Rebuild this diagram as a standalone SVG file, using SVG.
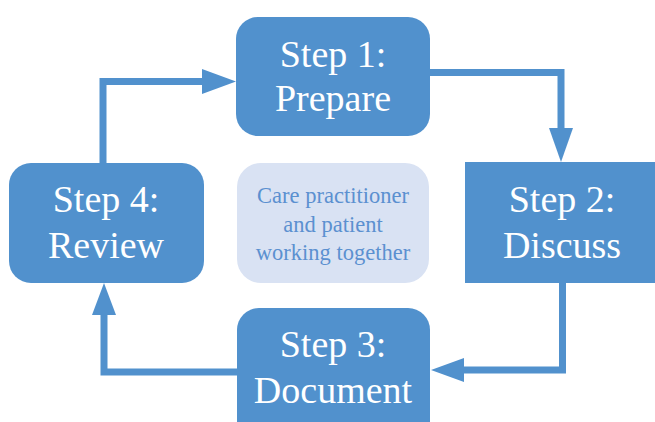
<svg xmlns="http://www.w3.org/2000/svg" width="655" height="422" viewBox="0 0 655 422">
<defs>
<style>
.box{fill:#5191cd;}
.lt{fill:#d9e2f3;}
.t{font-family:"Liberation Serif",serif;font-size:38px;fill:#ffffff;text-anchor:middle;}
.c{font-family:"Liberation Serif",serif;font-size:22.5px;fill:#5b90d0;text-anchor:middle;}
.ln{fill:none;stroke:#5191cd;stroke-width:7;}
.hd{fill:#5191cd;}
</style>
</defs>
<rect width="655" height="422" fill="#ffffff"/>
<g id="connectors">
<polyline class="ln" points="103,164 103,81.5 205,81.5"/>
<polygon class="hd" points="202,69 236,81.5 202,94"/>
<polyline class="ln" points="430,72.5 561,72.5 561,130"/>
<polygon class="hd" points="549,128 573,128 561,162"/>
<polyline class="ln" points="562.5,283 562.5,370 462,370"/>
<polygon class="hd" points="464,358 464,382 431,370"/>
<polyline class="ln" points="237,372 104,372 104,313"/>
<polygon class="hd" points="92,315 116,315 104,283"/>
</g>
<g id="step1">
<rect class="box" x="236" y="17" width="194" height="119" rx="22"/>
<text class="t" x="333" y="67">Step 1:</text>
<text class="t" x="333" y="111">Prepare</text>
</g>
<g id="step2">
<rect class="box" x="465" y="162" width="195" height="121"/>
<text class="t" x="562" y="212">Step 2:</text>
<text class="t" x="562" y="258">Discuss</text>
</g>
<g id="step3">
<rect class="box" x="237" y="308" width="193" height="140" rx="22"/>
<text class="t" x="333" y="357">Step 3:</text>
<text class="t" x="333" y="403">Document</text>
</g>
<g id="step4">
<rect class="box" x="9" y="163" width="195" height="120" rx="22"/>
<text class="t" x="106" y="212">Step 4:</text>
<text class="t" x="106" y="258">Review</text>
</g>
<g id="center">
<rect class="lt" x="237" y="163" width="192" height="120" rx="24"/>
<text class="c" x="333" y="203">Care practitioner</text>
<text class="c" x="333" y="232">and patient</text>
<text class="c" x="333" y="260">working together</text>
</g>
</svg>
